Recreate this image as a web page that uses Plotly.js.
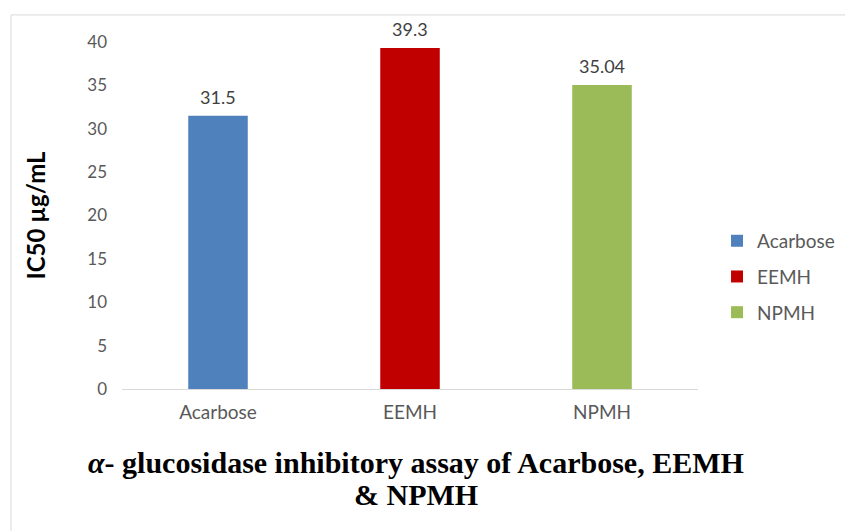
<!DOCTYPE html>
<html><head><meta charset="utf-8">
<script src="https://cdn.plot.ly/plotly-3.0.1.min.js"></script>
<style>html,body{margin:0;padding:0;background:#fff}#chart{width:845px;height:531px}</style>
</head><body><div id="chart"></div>
<script>
const categories = ["Acarbose", "EEMH", "NPMH"];
const values = [31.5, 39.3, 35.04];
const valueLabels = ["31.5", "39.3", "35.04"];
const colors = ["#4f81bd", "#c00000", "#9bbb59"];
const yTitle = "IC50 µg/mL";
const titleLine1 = "<i>α</i>- glucosidase inhibitory assay of Acarbose, EEMH";
const titleLine2 = "& NPMH";

const FONT = "Lato, 'Open Sans', sans-serif";
const SERIF = "'Liberation Serif', 'Times New Roman', serif";

const traces = categories.map((c, i) => ({
  type: "bar",
  name: c,
  legendgroup: c,
  x: [c],
  y: [values[i]],
  marker: {color: colors[i]},
  width: 0.31,
  hoverinfo: "x+y"
}));

const labelAnnotations = categories.map((c, i) => ({
  x: c, y: values[i], xref: "x", yref: "y",
  text: valueLabels[i], showarrow: false,
  yanchor: "middle", yshift: 19,
  font: {family: FONT, size: 18, color: "#404040"}
}));

const titleAnnotations = [titleLine1, titleLine2].map((t, i) => ({
  text: t, xref: "paper", yref: "paper",
  x: 0.4066, y: [-0.2104, -0.3026][i], xanchor: "center", yanchor: "middle",
  showarrow: false,
  font: {family: SERIF, size: 30, color: "#000000", weight: "bold"}
}));

const layout = {
  width: 845, height: 531,
  margin: {l: 122, r: 0, t: 42, b: 142},
  paper_bgcolor: "#ffffff", plot_bgcolor: "#ffffff",
  barmode: "overlay",
  showlegend: true,
  font: {family: FONT, color: "#595959", size: 18},
  xaxis: {
    domain: [0, 0.7967],
    categoryorder: "array", categoryarray: categories,
    showline: true, linecolor: "#d9d9d9", linewidth: 1,
    ticks: "", showgrid: false, zeroline: false,
    ticklabelstandoff: 6,
    tickfont: {size: 19, color: "#595959"}
  },
  yaxis: {
    range: [0, 40], dtick: 5, showgrid: false, zeroline: false, showline: false,
    ticks: "", ticklabelstandoff: 14,
    tickfont: {size: 17, color: "#595959"},
    title: {text: yTitle, font: {family: FONT, size: 24, color: "#000000", weight: "bold"}, standoff: 34}
  },
  legend: {
    x: 0.823, xanchor: "left", y: 0.323, yanchor: "middle",
    font: {size: 19, color: "#595959"},
    tracegroupgap: 8, itemwidth: 30
  },
  annotations: labelAnnotations.concat(titleAnnotations),
  shapes: [{
    type: "rect", xref: "paper", yref: "paper",
    x0: -0.1535, x1: 1.5, y0: 1.078, y1: -0.6,
    line: {color: "#d9d9d9", width: 1}, fillcolor: "rgba(0,0,0,0)", layer: "below"
  }]
};

Plotly.newPlot("chart", traces, layout, {displayModeBar: false, staticPlot: true});
</script></body></html>
